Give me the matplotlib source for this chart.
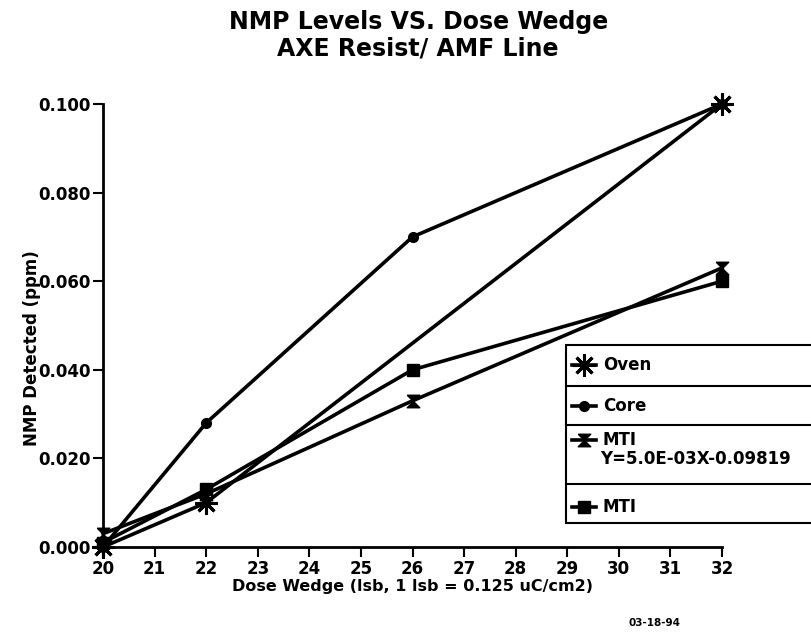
import matplotlib.pyplot as plt
from matplotlib.path import Path
from matplotlib.patches import Rectangle
from matplotlib.lines import Line2D
from matplotlib.ticker import FormatStrFormatter

# data
oven_x = [20, 22, 32]
oven_y = [0.000, 0.010, 0.100]
core_x = [20, 22, 26, 32]
core_y = [0.000, 0.028, 0.070, 0.100]
mti_fit_x = [20, 22, 26, 32]
mti_fit_y = [0.003, 0.012, 0.033, 0.063]
mti_x = [20, 22, 26, 32]
mti_y = [0.001, 0.013, 0.040, 0.060]
x_ticks = list(range(20, 33))
y_ticks = [0.0, 0.02, 0.04, 0.06, 0.08, 0.10]
legend_labels = ["Oven", "Core", "MTI", "MTI"]
fit_label = "Y=5.0E-03X-0.09819"

plt.rcParams['font.family'] = 'DejaVu Sans'
plt.rcParams['font.weight'] = 'bold'

# hourglass marker for the fitted MTI series
hourglass = Path([(-1, 1), (1, 1), (-1, -1), (1, -1), (-1, 1)])
asterisk = (8, 2, 0)

W, H = 812, 633
def fx(px):
    return px / W
def fy(py):
    return 1 - py / H

fig = plt.figure(figsize=(8.12, 6.33), dpi=100)
ax = fig.add_axes([fx(103), fy(547), (722 - 103) / W, (547 - 104) / H])

lw = 2.6
ax.plot(oven_x, oven_y, color='black', lw=lw, marker=asterisk, ms=16, mew=2.2, clip_on=False)
ax.plot(core_x, core_y, color='black', lw=lw, marker='o', ms=7, clip_on=False)
ax.plot(mti_fit_x, mti_fit_y, color='black', lw=lw, marker=hourglass, ms=9, clip_on=False)
ax.plot(mti_x, mti_y, color='black', lw=lw, marker='s', ms=8, clip_on=False)

ax.set_xlim(20, 32)
ax.set_ylim(0, 0.1)
ax.set_xticks(x_ticks)
ax.set_yticks(y_ticks)
ax.yaxis.set_major_formatter(FormatStrFormatter('%.3f'))
ax.tick_params(direction='out', length=7, width=1.5, labelsize=12, pad=2)
ax.spines['top'].set_visible(False)
ax.spines['right'].set_visible(False)
ax.spines['left'].set_linewidth(2)
ax.spines['bottom'].set_linewidth(2)

ax.set_xlabel("Dose Wedge (lsb, 1 lsb = 0.125 uC/cm2)", fontsize=11.5, fontweight='bold', labelpad=1)
ax.set_ylabel("NMP Detected (ppm)", fontsize=12, fontweight='bold', labelpad=2)
ax.yaxis.set_label_coords(-0.1, 0.45)

fig.text(0.515, fy(22), "NMP Levels VS. Dose Wedge", ha='center', va='center',
         fontsize=17, fontweight='bold')
fig.text(0.515, fy(49), "AXE Resist/ AMF Line", ha='center', va='center',
         fontsize=17, fontweight='bold')
fig.text(fx(655), fy(623), "03-18-94", ha='center', va='center', fontsize=7.5, fontweight='bold')

# legend box drawn by hand so it runs off the right edge like the original
box_left, box_top, box_bottom = 566, 345, 523
fig.patches.append(Rectangle((fx(box_left), fy(box_bottom)), fx(900 - box_left), fy(box_top) - fy(box_bottom),
                             transform=fig.transFigure, facecolor='white',
                             edgecolor='black', lw=1.5))
for yd in [386, 425, 484]:
    fig.add_artist(Line2D([fx(box_left), 1.0], [fy(yd), fy(yd)], transform=fig.transFigure,
                          color='black', lw=1.5))

row_y = [365, 406, 440, 507]
markers = [asterisk, 'o', hourglass, 's']
sizes = [16, 7, 9, 8]
for ry, mk, sz, lab in zip(row_y, markers, sizes, legend_labels):
    fig.add_artist(Line2D([fx(572), fx(596)], [fy(ry), fy(ry)], transform=fig.transFigure,
                          color='black', lw=lw))
    fig.add_artist(Line2D([fx(584)], [fy(ry)], transform=fig.transFigure, color='black',
                          marker=mk, ms=sz, mew=2.2 if mk == asterisk else 1))
    fig.text(fx(603), fy(ry), lab, ha='left', va='center', fontsize=12, fontweight='bold')
fig.text(fx(600), fy(459), fit_label, ha='left', va='center', fontsize=12, fontweight='bold')

fig.savefig("out.png", dpi=100)
